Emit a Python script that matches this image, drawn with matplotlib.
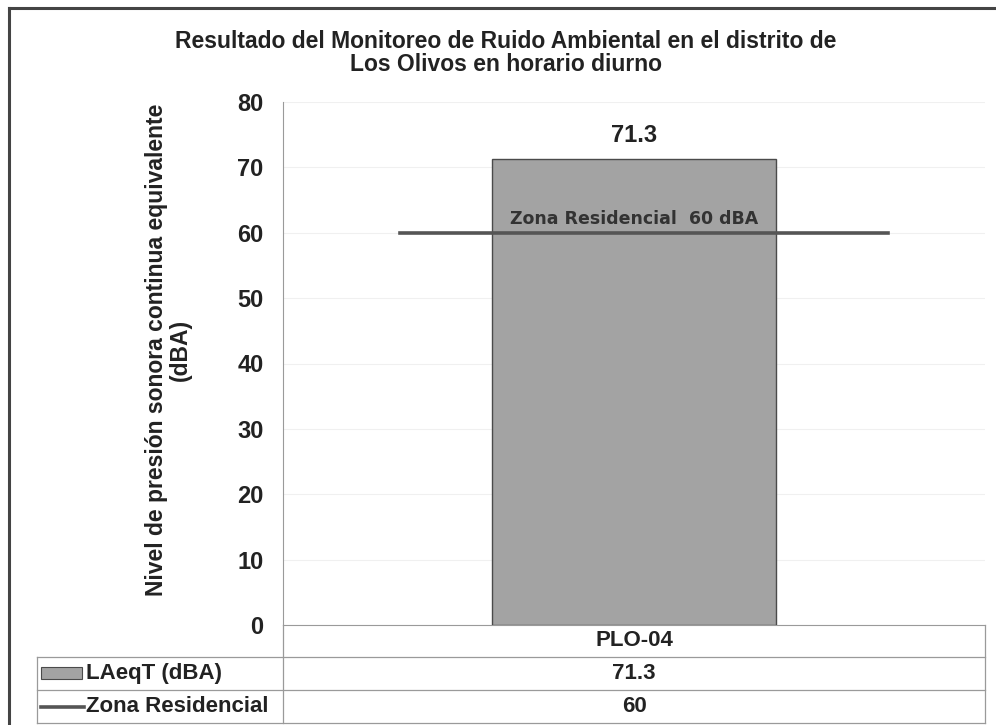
import matplotlib
matplotlib.use("Agg")
import matplotlib.pyplot as plt
from matplotlib.patches import Rectangle
from matplotlib.lines import Line2D

# data
categories = ["PLO-04"]
laeq = [71.3]
limite = 60
serie_barra = "LAeqT (dBA)"
serie_linea = "Zona Residencial"
titulo = "Resultado del Monitoreo de Ruido Ambiental en el distrito de\nLos Olivos en horario diurno"
ylabel = "Nivel de presión sonora continua equivalente\n(dBA)"

plt.rcParams['font.family'] = ['Liberation Sans', 'DejaVu Sans']
plt.rcParams['font.weight'] = 'bold'

W, H = 996, 725
fig = plt.figure(figsize=(W / 100, H / 100), dpi=100)

def fx(px):
    return px / W

def fy(py):
    return 1 - py / H

# plot area
ax = fig.add_axes([fx(283), fy(625), fx(985) - fx(283), fy(102) - fy(625)])
x = list(range(len(categories)))
bars = ax.bar(x, laeq, width=0.405, color="#a3a3a3", edgecolor="#4a4a4a", linewidth=1.0, zorder=3)
ax.axhline(limite, xmin=0.167, xmax=0.862, color="#555555", linewidth=2.6, zorder=4)
ax.set_xlim(-0.5, len(categories) - 0.5)
ax.set_ylim(0, 80)
ax.set_yticks(range(0, 81, 10))
ax.tick_params(axis='y', length=0, labelsize=17, pad=14)
ax.set_xticks([])
for lbl in ax.get_yticklabels():
    lbl.set_fontweight('bold')
    lbl.set_color('#222222')
ax.grid(axis='y', color='#f0f0f0', linewidth=0.8, zorder=0)
for s in ['top', 'right']:
    ax.spines[s].set_visible(False)
ax.spines['left'].set_color('#9a9a9a')
ax.spines['left'].set_linewidth(0.8)
ax.spines['bottom'].set_color('#9a9a9a')
ax.spines['bottom'].set_linewidth(0.8)

for b, v in zip(bars, laeq):
    ax.text(b.get_x() + b.get_width() / 2, v + 3.5, f"{v}", ha='center', va='center',
            fontsize=17, fontweight='bold', color='#222222')
ax.text(0, limite + 2.1, f"{serie_linea}  {limite} dBA", ha='center', va='center',
        fontsize=12.5, fontweight='bold', color='#333333', zorder=5,
        family=['DejaVu Sans'])

# title and y label
fig.text(fx(506), fy(53), titulo, ha='center', va='center', fontsize=16.5,
         fontweight='bold', color='#222222', linespacing=1.0)
fig.text(fx(168), fy(350), ylabel, ha='center', va='center', rotation=90,
         fontsize=16.5, fontweight='bold', color='#222222', linespacing=1.05)

# outer border
fig.add_artist(Line2D([fx(9), fx(9)], [fy(8), 0], color='#444444', linewidth=2.2))
fig.add_artist(Line2D([fx(9), 1], [fy(8), fy(8)], color='#444444', linewidth=2.2))

# data table
tc = '#9a9a9a'
def hline(y, x0, x1):
    fig.add_artist(Line2D([fx(x0), fx(x1)], [fy(y), fy(y)], color=tc, linewidth=0.9))

def vline(x, y0, y1):
    fig.add_artist(Line2D([fx(x), fx(x)], [fy(y0), fy(y1)], color=tc, linewidth=0.9))

hline(657, 37, 985)
hline(690, 37, 985)
hline(723, 37, 985)
vline(37, 657, 723)
vline(283, 625, 723)
vline(985, 625, 723)

col_c = (283 + 985) / 2
fs_tab = 16
fig.text(fx(col_c), fy(641), categories[0], ha='center', va='center', fontsize=fs_tab,
         fontweight='bold', color='#222222')
fig.text(fx(col_c), fy(673.5), f"{laeq[0]}", ha='center', va='center', fontsize=fs_tab,
         fontweight='bold', color='#222222')
fig.text(fx(col_c), fy(706.5), f"{limite}", ha='center', va='center', fontsize=fs_tab,
         fontweight='bold', color='#222222')

fig.add_artist(Rectangle((fx(41), fy(679)), fx(82) - fx(41), fy(667) - fy(679),
                         facecolor='#a3a3a3', edgecolor='#4a4a4a', linewidth=0.8))
fig.add_artist(Line2D([fx(41), fx(84)], [fy(707), fy(707)], color='#555555', linewidth=2.6))
fig.text(fx(86), fy(673.5), serie_barra, ha='left', va='center', fontsize=fs_tab,
         fontweight='bold', color='#222222')
fig.text(fx(86), fy(706.5), serie_linea, ha='left', va='center', fontsize=fs_tab,
         fontweight='bold', color='#222222')

fig.savefig("out.png", dpi=100)
